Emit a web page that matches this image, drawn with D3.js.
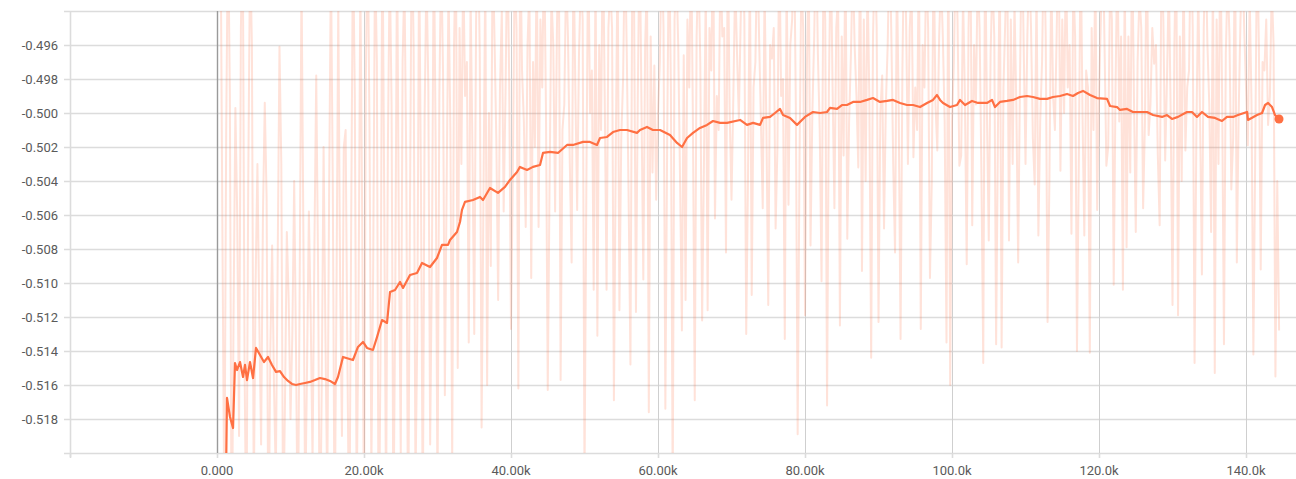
<!DOCTYPE html>
<html>
<head>
<meta charset="utf-8">
<script src="https://cdn.jsdelivr.net/npm/d3@7"></script>
<style>
  body { margin: 0; background: #fff; }
  text { font-family: Roboto, "Open Sans", sans-serif; }
</style>
</head>
<body>
<script>
// raw scalar, logged every 250 steps starting at step 500
var rawStart = 500;
var rawInterval = 250;
var rawValues = [
  -0.4900, -0.5080, -0.5240, -0.5010,  -0.4885, -0.4990, -0.5275, -0.5120,
  -0.4997, -0.5060, -0.5190, -0.4950,  -0.4890, -0.5150, -0.5260, -0.5040,
  -0.4905, -0.4960, -0.5230, -0.5100,  -0.5030, -0.5120, -0.5195, -0.5060,
  -0.4994, -0.5050, -0.5270, -0.5140,  -0.5078, -0.5160, -0.5215, -0.5090,
  -0.4961, -0.5030, -0.5250, -0.5170,  -0.5070, -0.5110, -0.5180, -0.5130,
  -0.5040, -0.5140, -0.5260, -0.5100,  -0.4920, -0.5070, -0.5235, -0.5150,
  -0.5058, -0.5120, -0.5205, -0.5080,  -0.4978, -0.5090, -0.5270, -0.5160,
  -0.5020, -0.5130, -0.5225, -0.5050,  -0.4910, -0.5040, -0.5255, -0.5110,
  -0.4935, -0.5100, -0.5190, -0.5020,  -0.5010, -0.5150, -0.5265, -0.5070,
  -0.4895, -0.4990, -0.5230, -0.5120,  -0.4920, -0.5060, -0.5245, -0.4980,
  -0.4890, -0.5010, -0.5210, -0.5090,  -0.4905, -0.4970, -0.5275, -0.5140,
  -0.4880, -0.5050, -0.5235, -0.5020,  -0.4910, -0.4995, -0.5250, -0.5110,
  -0.4895, -0.5080, -0.5200, -0.4970,  -0.4920, -0.5030, -0.5260, -0.5060,
  -0.4885, -0.4960, -0.5220, -0.5130,  -0.4900, -0.5045, -0.5245, -0.5000,
  -0.4915, -0.4985, -0.5195, -0.5080,  -0.4890, -0.5020, -0.5230, -0.4990,
  -0.4905, -0.4975, -0.5166, -0.5040,  -0.4925, -0.5010, -0.5205, -0.4960,
  -0.4895, -0.5150, -0.4950, -0.5030,  -0.4910, -0.4990, -0.4970, -0.5135,
  -0.4930, -0.5020, -0.5130, -0.4945,  -0.4890, -0.4965, -0.5185, -0.5050,
  -0.4915, -0.5160, -0.5000, -0.5090,  -0.4900, -0.4955, -0.5015, -0.5110,
  -0.4985, -0.4940, -0.5058, -0.4990,  -0.4895, -0.4980, -0.5127, -0.5035,
  -0.4910, -0.4950, -0.5162, -0.4890,  -0.4975, -0.5005, -0.5067, -0.4960,
  -0.4925, -0.5097, -0.4970, -0.5020,  -0.4905, -0.5067, -0.4945, -0.4985,
  -0.4895, -0.4995, -0.5163, -0.5040,  -0.4930, -0.4960, -0.5058, -0.4950,
  -0.4890, -0.5157, -0.5010, -0.4995,  -0.4915, -0.4955, -0.5030, -0.5088,
  -0.4900, -0.4985, -0.5057, -0.4965,  -0.4920, -0.4945, -0.5215, -0.5045,
  -0.4895, -0.5000, -0.4975, -0.5104,  -0.4910, -0.5131, -0.4960, -0.5010,
  -0.4890, -0.4990, -0.5104, -0.4950,  -0.4925, -0.4950, -0.5169, -0.5025,
  -0.4905, -0.5116, -0.5015, -0.4980,  -0.4895, -0.4965, -0.5050, -0.5148,
  -0.4915, -0.4940, -0.5117, -0.4990,  -0.4890, -0.4995, -0.5098, -0.4960,
  -0.4920, -0.5176, -0.4955, -0.5035,  -0.4972, -0.5051, -0.5000, -0.4970,
  -0.4900, -0.4950, -0.5174, -0.5015,  -0.4890, -0.4985, -0.5225, -0.4945,
  -0.4915, -0.4960, -0.5040, -0.5128,  -0.4966, -0.5110, -0.4945, -0.4985,
  -0.4895, -0.5005, -0.5169, -0.4955,  -0.4910, -0.4970, -0.5122, -0.5030,
  -0.4925, -0.5116, -0.4950, -0.4975,  -0.4890, -0.5062, -0.4990, -0.5010,
  -0.4905, -0.4955, -0.4950, -0.5082,  -0.4895, -0.5000, -0.5051, -0.4990,
  -0.4920, -0.4965, -0.5003, -0.4945,  -0.4890, -0.4945, -0.5130, -0.5035,
  -0.4910, -0.5107, -0.4985, -0.4970,  -0.4900, -0.4955, -0.5005, -0.5056,
  -0.4925, -0.5010, -0.5113, -0.4960,  -0.4968, -0.4950, -0.5068, -0.5020,
  -0.4895, -0.4990, -0.4980, -0.5133,  -0.4915, -0.5054, -0.4960, -0.4945,
  -0.4890, -0.4995, -0.5189, -0.5030,  -0.4920, -0.4950, -0.5119, -0.4975,
  -0.4905, -0.5078, -0.5000, -0.4955,  -0.4890, -0.4965, -0.5010, -0.5099,
  -0.4915, -0.4945, -0.5172, -0.4985,  -0.4900, -0.4985, -0.5056, -0.4950,
  -0.4930, -0.5125, -0.4955, -0.5025,  -0.4895, -0.5074, -0.5005, -0.4965,
  -0.4910, -0.4960, -0.4990, -0.5032,  -0.4890, -0.5093, -0.4945, -0.5040,
  -0.4920, -0.4990, -0.5144, -0.4955,  -0.4905, -0.4950, -0.5123, -0.5000,
  -0.4978, -0.5068, -0.4995, -0.4960,  -0.4895, -0.4955, -0.5030, -0.5082,
  -0.4915, -0.5000, -0.5133, -0.4975,  -0.4890, -0.4945, -0.5030, -0.4950,
  -0.4925, -0.5026, -0.4985, -0.5010,  -0.4900, -0.5127, -0.4960, -0.4985,
  -0.4910, -0.4950, -0.5097, -0.5040,  -0.4895, -0.4995, -0.5022, -0.4955,
  -0.4920, -0.4955, -0.5005, -0.5135,  -0.4890, -0.5160, -0.5005, -0.4970,
  -0.4905, -0.4945, -0.5031, -0.5025,  -0.4930, -0.4990, -0.5089, -0.4950,
  -0.4895, -0.5066, -0.4960, -0.4995,  -0.4915, -0.4950, -0.5035, -0.5147,
  -0.4890, -0.5000, -0.5075, -0.4965,  -0.4920, -0.4955, -0.5136, -0.5010,
  -0.4905, -0.5138, -0.4985, -0.4945,  -0.4895, -0.5075, -0.4945, -0.5030,
  -0.4935, -0.4995, -0.5088, -0.4980,  -0.4890, -0.4960, -0.5030, -0.4955,
  -0.4910, -0.4950, -0.5015, -0.5042,  -0.4925, -0.5072, -0.5005, -0.4970,
  -0.4895, -0.4955, -0.5123, -0.5040,  -0.4915, -0.4990, -0.5010, -0.4950,
  -0.4890, -0.5034, -0.4945, -0.5000,  -0.4905, -0.4985, -0.4960, -0.5071,
  -0.4920, -0.4955, -0.5140, -0.5030,  -0.4895, -0.5000, -0.5072, -0.4975,
  -0.4985, -0.5141, -0.4950, -0.5010,  -0.4910, -0.5057, -0.4990, -0.4945,
  -0.4890, -0.4960, -0.5031, -0.5020,  -0.4925, -0.4945, -0.5101, -0.4985,
  -0.4900, -0.5005, -0.4955, -0.5104,  -0.4915, -0.5079, -0.4955, -0.5035,
  -0.4895, -0.4990, -0.5070, -0.4970,  -0.4930, -0.4950, -0.5056, -0.5005,
  -0.4890, -0.5013, -0.4995, -0.4950,  -0.4971, -0.4960, -0.5025, -0.5066,
  -0.4905, -0.4945, -0.5028, -0.4980,  -0.4920, -0.5000, -0.5113, -0.4960,
  -0.4895, -0.5119, -0.4955, -0.5040,  -0.4910, -0.5022, -0.4985, -0.4975,
  -0.4890, -0.4950, -0.5147, -0.5010,  -0.4925, -0.5005, -0.5095, -0.4950,
  -0.4900, -0.4960, -0.4995, -0.5070,  -0.4915, -0.5153, -0.4945, -0.5030,
  -0.4895, -0.4990, -0.5136, -0.4965,  -0.4920, -0.4955, -0.5045, -0.5015,
  -0.4890, -0.5088, -0.5000, -0.4945,  -0.4905, -0.4950, -0.4985, -0.5019,
  -0.4930, -0.4995, -0.5142, -0.5025,  -0.4895, -0.4960, -0.5092, -0.4970,
  -0.4975, -0.4945, -0.5007, -0.4990,  -0.4925, -0.4960, -0.5155, -0.5040,
  -0.5128
];

// smoothed curve
var smoothSteps = [
  1220, 1360, 1770, 2180, 2450, 2720, 3130, 3540, 3810, 4080,
  4490, 4900, 5310, 5850, 6390, 6940, 7480, 8030, 8570, 9120,
  9660, 10200, 10750, 11290, 11970, 12650, 13330, 14010, 14690, 15370,
  16050, 16460, 17140, 18500, 19180, 19860, 20410, 21220, 21770, 22450,
  23130, 23540, 24220, 24900, 25310, 26260, 27210, 27890, 28980, 29930,
  30610, 31430, 31700, 32650, 33060, 33330, 33740, 34830, 35780, 36190,
  37140, 38230, 39180, 39860, 40820, 41220, 42180, 42990, 43950, 44350,
  45310, 46390, 47620, 48430, 49800, 50750, 51700, 52110, 53060, 53880,
  54830, 55780, 57140, 57550, 58500, 59320, 60270, 61630, 62590, 63270,
  63950, 64760, 65710, 66670, 67480, 68440, 69390, 71160, 72110, 72930,
  73880, 74290, 75240, 75920, 76600, 77010, 77960, 78910, 80000, 81090,
  82040, 82990, 83400, 84350, 85030, 85710, 86530, 87480, 88440, 89250,
  90200, 91160, 91970, 92930, 93880, 94690, 95650, 96600, 97410, 97960,
  98370, 98780, 99730, 100680, 101090, 101770, 102720, 103540, 104760, 105440,
  105850, 106530, 107480, 108300, 109250, 110200, 111020, 111970, 112930, 113740,
  114690, 115650, 116460, 117140, 117820, 118780, 119730, 121090, 121500, 122450,
  122860, 123810, 124620, 126530, 127350, 128570, 129250, 129930, 130750, 131970,
  132650, 133330, 134010, 134830, 135780, 136730, 137410, 138230, 138910, 140140,
  140270, 141500, 142180, 142590, 143000, 143540, 143950, 144490
];
var smoothValues = [
  -0.52150, -0.51676, -0.51788, -0.51853, -0.51471, -0.51512, -0.51465, -0.51553, -0.51482, -0.51571,
  -0.51465, -0.51559, -0.51382, -0.51424, -0.51465, -0.51435, -0.51482, -0.51523, -0.51518, -0.51553,
  -0.51576, -0.51594, -0.51600, -0.51594, -0.51588, -0.51582, -0.51571, -0.51559, -0.51565, -0.51576,
  -0.51594, -0.51553, -0.51435, -0.51453, -0.51376, -0.51347, -0.51382, -0.51394, -0.51318, -0.51218,
  -0.51235, -0.51053, -0.51041, -0.50994, -0.51029, -0.50953, -0.50941, -0.50882, -0.50906, -0.50853,
  -0.50776, -0.50776, -0.50747, -0.50700, -0.50641, -0.50570, -0.50523, -0.50512, -0.50494, -0.50512,
  -0.50441, -0.50470, -0.50435, -0.50394, -0.50347, -0.50317, -0.50335, -0.50317, -0.50306, -0.50235,
  -0.50229, -0.50235, -0.50188, -0.50188, -0.50170, -0.50170, -0.50188, -0.50147, -0.50141, -0.50112,
  -0.50100, -0.50100, -0.50117, -0.50100, -0.50082, -0.50100, -0.50100, -0.50129, -0.50176, -0.50200,
  -0.50147, -0.50117, -0.50088, -0.50070, -0.50047, -0.50058, -0.50058, -0.50041, -0.50070, -0.50058,
  -0.50070, -0.50029, -0.50023, -0.50000, -0.49976, -0.50012, -0.50029, -0.50070, -0.50023, -0.49994,
  -0.50000, -0.49994, -0.49970, -0.49976, -0.49953, -0.49953, -0.49935, -0.49935, -0.49923, -0.49912,
  -0.49935, -0.49929, -0.49923, -0.49941, -0.49953, -0.49953, -0.49965, -0.49941, -0.49923, -0.49894,
  -0.49923, -0.49941, -0.49965, -0.49953, -0.49923, -0.49953, -0.49929, -0.49941, -0.49941, -0.49923,
  -0.49965, -0.49935, -0.49929, -0.49923, -0.49906, -0.49900, -0.49906, -0.49917, -0.49917, -0.49906,
  -0.49900, -0.49888, -0.49900, -0.49882, -0.49870, -0.49894, -0.49912, -0.49917, -0.49959, -0.49965,
  -0.49982, -0.49976, -0.49994, -0.49994, -0.50012, -0.50023, -0.50012, -0.50035, -0.50023, -0.49994,
  -0.49994, -0.50023, -0.49994, -0.50023, -0.50029, -0.50047, -0.50023, -0.50023, -0.50012, -0.49994,
  -0.50041, -0.50012, -0.50000, -0.49953, -0.49941, -0.49965, -0.50012, -0.50035
];

// axis ticks
var xTicks = [-20000, 0, 20000, 40000, 60000, 80000, 100000, 120000, 140000];
var yTicks = [-0.520, -0.518, -0.516, -0.514, -0.512, -0.510, -0.508, -0.506,
              -0.504, -0.502, -0.500, -0.498, -0.496, -0.494];
var yLabelTicks = yTicks.slice(1, -1);

var W = 1296, H = 479;
var margin = { top: 11, right: 0, bottom: 26, left: 70 };
var width = W - margin.left - margin.right,
    height = H - margin.top - margin.bottom;

var xScale = d3.scaleLinear().domain([-20000, 146800]).range([0, width]);
var yScale = d3.scaleLinear().domain([-0.520, -0.494]).range([height, 0]);

// hyphen minus like the original, not d3's unicode minus
var locale = d3.formatLocale({ decimal: ".", thousands: ",", grouping: [3], currency: ["", ""], minus: "-" });
var fmtY = locale.format(".3f");
var fmtX = locale.format(".4s");

var svg = d3.select("body").append("svg")
  .attr("width", W)
  .attr("height", H);

var g = svg.append("g")
  .attr("transform", "translate(" + margin.left + "," + margin.top + ")");

g.append("clipPath").attr("id", "plot-clip")
  .append("rect")
  .attr("x", 0).attr("y", 0)
  .attr("width", width).attr("height", height);

// horizontal grid, incl. the little stubs left of the axis
g.append("g").selectAll("line")
  .data(yTicks)
  .enter().append("line")
  .attr("x1", -6).attr("x2", width)
  .attr("y1", function (d) { return Math.round(yScale(d)) + 0.5; })
  .attr("y2", function (d) { return Math.round(yScale(d)) + 0.5; })
  .attr("stroke", "#dcdcdc")
  .attr("stroke-width", 1.6);

// vertical grid
g.append("g").selectAll("line")
  .data(xTicks.filter(function (d) { return d > 0; }))
  .enter().append("line")
  .attr("x1", function (d) { return Math.round(xScale(d)) + 0.5; })
  .attr("x2", function (d) { return Math.round(xScale(d)) + 0.5; })
  .attr("y1", 0).attr("y2", height)
  .attr("stroke", "#cfcfcf")
  .attr("stroke-width", 1);

// left axis line
g.append("line")
  .attr("x1", 0.5).attr("x2", 0.5)
  .attr("y1", 0).attr("y2", height + 4)
  .attr("stroke", "#dcdcdc")
  .attr("stroke-width", 1.6);

// bottom tick stubs
g.append("g").selectAll("line")
  .data(xTicks)
  .enter().append("line")
  .attr("x1", function (d) { return Math.round(xScale(d)) + 0.5; })
  .attr("x2", function (d) { return Math.round(xScale(d)) + 0.5; })
  .attr("y1", height).attr("y2", height + 5)
  .attr("stroke", "#dcdcdc")
  .attr("stroke-width", 1.6);

var plot = g.append("g").attr("clip-path", "url(#plot-clip)");

// raw series, faint
var rawLine = d3.line()
  .x(function (d, i) { return xScale(rawStart + i * rawInterval); })
  .y(function (d) { return yScale(d); });

plot.append("path")
  .datum(rawValues)
  .attr("d", rawLine)
  .attr("fill", "none")
  .attr("stroke", "#ff7043")
  .attr("stroke-opacity", 0.2)
  .attr("stroke-width", 2)
  .attr("stroke-linejoin", "round");

// step zero line
g.append("line")
  .attr("x1", Math.round(xScale(0)) + 0.5)
  .attr("x2", Math.round(xScale(0)) + 0.5)
  .attr("y1", 0).attr("y2", height)
  .attr("stroke", "#9a9a9a")
  .attr("stroke-width", 1.4);

// smoothed series
var smoothLine = d3.line()
  .x(function (d, i) { return xScale(smoothSteps[i]); })
  .y(function (d) { return yScale(d); });

plot.append("path")
  .datum(smoothValues)
  .attr("d", smoothLine)
  .attr("fill", "none")
  .attr("stroke", "#ff7043")
  .attr("stroke-width", 2.2)
  .attr("stroke-linejoin", "round");

// marker on the last point
var last = smoothValues.length - 1;
g.append("circle")
  .attr("cx", xScale(smoothSteps[last]))
  .attr("cy", yScale(smoothValues[last]))
  .attr("r", 4.5)
  .attr("fill", "#ff7043");

// y labels
g.append("g").selectAll("text")
  .data(yLabelTicks)
  .enter().append("text")
  .attr("x", -12)
  .attr("y", function (d) { return yScale(d); })
  .attr("dy", "0.35em")
  .attr("text-anchor", "end")
  .attr("font-size", 13)
  .attr("fill", "#5a5a5a")
  .text(fmtY);

// x labels
g.append("g").selectAll("text")
  .data(xTicks.filter(function (d) { return d >= 0; }))
  .enter().append("text")
  .attr("x", function (d) { return xScale(d); })
  .attr("y", height + 22)
  .attr("text-anchor", "middle")
  .attr("font-size", 13)
  .attr("fill", "#5a5a5a")
  .text(fmtX);
</script>
</body>
</html>
